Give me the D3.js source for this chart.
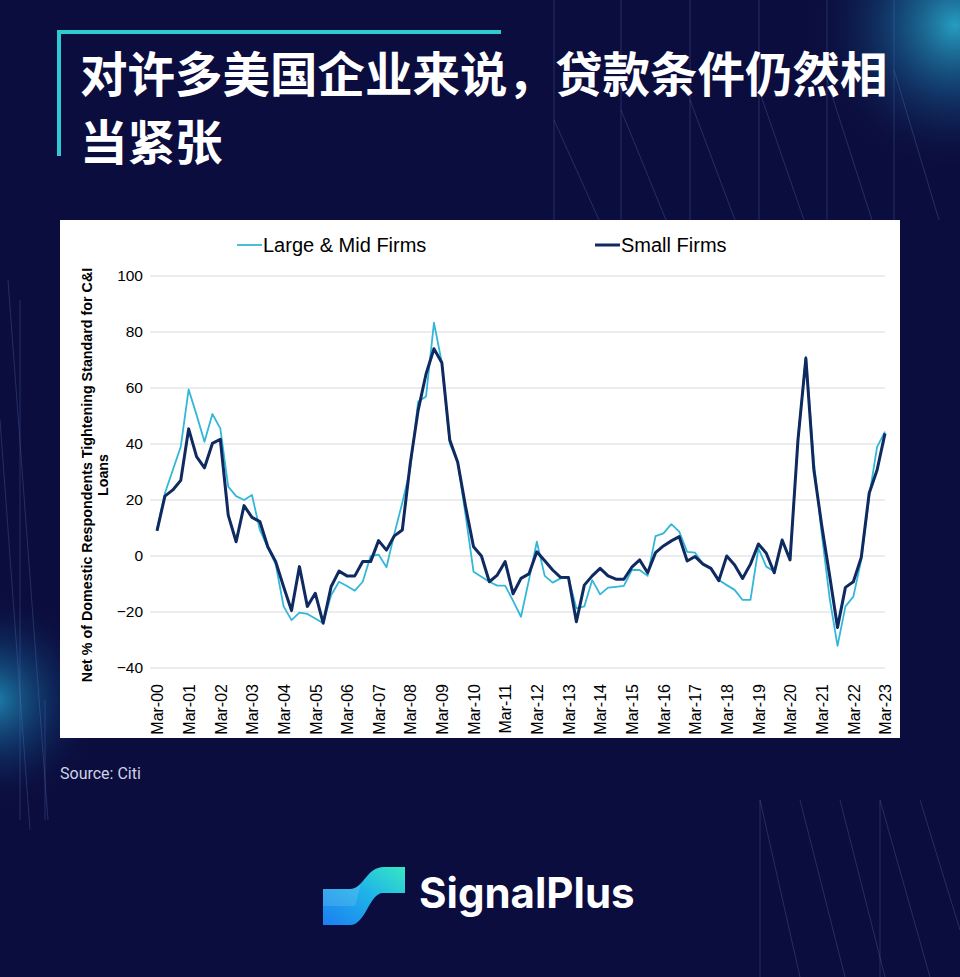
<!DOCTYPE html>
<html>
<head>
<meta charset="utf-8">
<script src="https://cdn.jsdelivr.net/npm/d3@7/dist/d3.min.js"></script>
<style>
  html, body { margin: 0; padding: 0; background: #0b0d3e; }
  svg { display: block; }
</style>
</head>
<body>
<svg id="chart" width="960" height="977"></svg>
<script>
// Quarterly survey dates, Mar-00 through Mar-23
const quarters = [
  "Mar-00","Jun-00","Sep-00","Dec-00","Mar-01","Jun-01","Sep-01","Dec-01",
  "Mar-02","Jun-02","Sep-02","Dec-02","Mar-03","Jun-03","Sep-03","Dec-03",
  "Mar-04","Jun-04","Sep-04","Dec-04","Mar-05","Jun-05","Sep-05","Dec-05",
  "Mar-06","Jun-06","Sep-06","Dec-06","Mar-07","Jun-07","Sep-07","Dec-07",
  "Mar-08","Jun-08","Sep-08","Dec-08","Mar-09","Jun-09","Sep-09","Dec-09",
  "Mar-10","Jun-10","Sep-10","Dec-10","Mar-11","Jun-11","Sep-11","Dec-11",
  "Mar-12","Jun-12","Sep-12","Dec-12","Mar-13","Jun-13","Sep-13","Dec-13",
  "Mar-14","Jun-14","Sep-14","Dec-14","Mar-15","Jun-15","Sep-15","Dec-15",
  "Mar-16","Jun-16","Sep-16","Dec-16","Mar-17","Jun-17","Sep-17","Dec-17",
  "Mar-18","Jun-18","Sep-18","Dec-18","Mar-19","Jun-19","Sep-19","Dec-19",
  "Mar-20","Jun-20","Sep-20","Dec-20","Mar-21","Jun-21","Sep-21","Dec-21",
  "Mar-22","Jun-22","Sep-22","Dec-22","Mar-23"
];

// Net % of domestic respondents tightening standards for C&I loans
const largeMidFirms = [
  9.5, 22.4, 30.7, 39, 59.5, 50.4, 40.8, 50.7,
  45.6, 24.8, 21.4, 20, 21.8, 9.3, 3, -3,
  -18, -22.9, -20.2, -20.7, -22.3, -24, -14, -9.2,
  -10.7, -12.4, -9.2, 0, 0.5, -4, 8, 19,
  31, 55.1, 57, 83.3, 69, 40.2, 33.5, 14.5,
  -5.6, -7.4, -9.2, -10.6, -10.6, -16, -21.7, -8.6,
  5.1, -7.1, -9.5, -8, -7.7, -18.7, -18, -8.6,
  -13.7, -11.3, -11, -10.7, -5, -5, -7.1, 7.1,
  8.1, 11.4, 8.7, 1.5, 1.2, -2.9, -4.6, -8.6,
  -10.4, -12.1, -15.7, -15.7, 2.7, -3.8, -5.5, 5.7,
  -1.4, 41.6, 71.2, 34, 8, -15, -32.1, -18,
  -14.5, -1.4, 21.2, 39, 44.4
];

const smallFirms = [
  9, 21.4, 23.6, 27, 45.4, 35.5, 31.5, 40.2,
  41.7, 14.6, 5.1, 18, 13.8, 12.3, 3.3, -2,
  -11, -19.5, -3.8, -18, -13.3, -24, -11, -5.4,
  -7.1, -7.1, -2, -2, 5.5, 2.1, 7.2, 9.3,
  33, 52, 65, 74, 69, 41.4, 33.5, 17.6,
  3.3, 0, -9.2, -6.8, -2, -13.5, -8, -6.4,
  1.5, -1.7, -5, -7.6, -7.7, -23.5, -10.4, -7.1,
  -4.4, -7.1, -8.3, -8.3, -4, -1.4, -6, 1.2,
  3.6, 5.4, 6.9, -1.8, -0.2, -2.9, -4.4, -8.8,
  0, -3.2, -8, -2.9, 4.3, 1, -6, 5.7,
  -1.4, 41.4, 70.6, 31, 11, -7, -25.5, -11.2,
  -9.2, -0.5, 22.4, 30.7, 43.8
];

const xTickLabels = [
  "Mar-00","Mar-01","Mar-02","Mar-03","Mar-04","Mar-05","Mar-06","Mar-07",
  "Mar-08","Mar-09","Mar-10","Mar-11","Mar-12","Mar-13","Mar-14","Mar-15",
  "Mar-16","Mar-17","Mar-18","Mar-19","Mar-20","Mar-21","Mar-22","Mar-23"
];
const yTickValues = [100, 80, 60, 40, 20, 0, -20, -40];

const seriesNames = ["Large & Mid Firms", "Small Firms"];
const titleLines = ["对许多美国企业来说，贷款条件仍然相", "当紧张"];
const yAxisTitle = ["Net % of Domestic Respondents Tightening Standard for C&I", "Loans"];
const sourceText = "Source: Citi";
const brandName = "SignalPlus";

const svg = d3.select("#chart");
const W = 960, H = 977;
const defs = svg.append("defs");

// ---------- page background ----------
svg.append("rect").attr("width", W).attr("height", H).attr("fill", "#0b0d3e");

const glowTR = defs.append("radialGradient").attr("id", "glowTR")
  .attr("cx", 0.5).attr("cy", 0.5).attr("r", 0.5);
glowTR.append("stop").attr("offset", "0%").attr("stop-color", "#2bb7d6").attr("stop-opacity", 0.85);
glowTR.append("stop").attr("offset", "45%").attr("stop-color", "#1a6fa0").attr("stop-opacity", 0.45);
glowTR.append("stop").attr("offset", "100%").attr("stop-color", "#0b0d3e").attr("stop-opacity", 0);
svg.append("circle").attr("cx", 955).attr("cy", 25).attr("r", 150).attr("fill", "url(#glowTR)");

const glowL = defs.append("radialGradient").attr("id", "glowL")
  .attr("cx", 0.5).attr("cy", 0.5).attr("r", 0.5);
glowL.append("stop").attr("offset", "0%").attr("stop-color", "#23a6cf").attr("stop-opacity", 0.75);
glowL.append("stop").attr("offset", "50%").attr("stop-color", "#155f95").attr("stop-opacity", 0.35);
glowL.append("stop").attr("offset", "100%").attr("stop-color", "#0b0d3e").attr("stop-opacity", 0);
svg.append("circle").attr("cx", -5).attr("cy", 700).attr("r", 110).attr("fill", "url(#glowL)");

// faint decorative stripes
const deco = svg.append("g").attr("stroke", "#5f79b8").attr("stroke-opacity", 0.3).attr("stroke-width", 1);
[554, 621, 690, 759, 827, 894].forEach((x, k) => {
  deco.append("line").attr("x1", x).attr("y1", 0).attr("x2", x).attr("y2", 220);
  deco.append("line").attr("x1", x).attr("y1", 120 - k * 10).attr("x2", x + 45).attr("y2", 220);
});
[[8, 280, 48, 820], [0, 420, 30, 830], [45, 700, 45, 820], [20, 300, 20, 820]].forEach(s =>
  deco.append("line").attr("x1", s[0]).attr("y1", s[1]).attr("x2", s[2]).attr("y2", s[3]));
[[760, 800, 800, 977], [800, 800, 845, 977], [840, 800, 885, 977], [880, 800, 930, 977],
 [920, 800, 960, 930], [760, 800, 760, 977], [880, 800, 880, 977]].forEach(s =>
  deco.append("line").attr("x1", s[0]).attr("y1", s[1]).attr("x2", s[2]).attr("y2", s[3]));

// ---------- title ----------
svg.append("rect").attr("x", 57).attr("y", 30).attr("width", 444).attr("height", 4).attr("fill", "#2fc9d4");
svg.append("rect").attr("x", 57).attr("y", 30).attr("width", 4).attr("height", 126).attr("fill", "#2fc9d4");
svg.append("g").selectAll("text").data(titleLines).join("text")
  .attr("x", 80).attr("y", (d, i) => 92 + i * 68)
  .attr("fill", "#ffffff")
  .attr("font-family", "'Noto Sans CJK SC', sans-serif")
  .attr("font-weight", 700)
  .attr("font-size", 47.5)
  .text(d => d);

// ---------- chart panel ----------
svg.append("rect").attr("x", 60).attr("y", 220).attr("width", 840).attr("height", 518).attr("fill", "#ffffff");

const x = d3.scalePoint().domain(quarters).range([157, 885]);
const y = d3.scaleLinear().domain([-40, 100]).range([668, 276]);

// horizontal gridlines
svg.append("g").selectAll("line").data(yTickValues).join("line")
  .attr("x1", 150).attr("x2", 885)
  .attr("y1", d => y(d)).attr("y2", d => y(d))
  .attr("stroke", "#d9d9d9").attr("stroke-width", 1);

// y axis labels
const yAxis = d3.axisLeft(y).tickValues(yTickValues).tickSize(0).tickPadding(0);
const gy = svg.append("g").attr("transform", "translate(143,0)").call(yAxis);
gy.select(".domain").remove();
gy.selectAll("text")
  .attr("font-family", "'Liberation Sans', Arial, sans-serif")
  .attr("font-size", 15.5).attr("fill", "#000000");

// x axis labels (rotated)
const xAxis = d3.axisBottom(x).tickValues(xTickLabels).tickSize(0).tickPadding(0);
const gx = svg.append("g").attr("transform", "translate(0,684)").call(xAxis);
gx.select(".domain").remove();
gx.selectAll("text")
  .attr("font-family", "'Liberation Sans', Arial, sans-serif")
  .attr("font-size", 16).attr("fill", "#000000")
  .attr("text-anchor", "end")
  .attr("transform", "rotate(-90)")
  .attr("x", 0).attr("y", 0).attr("dy", "0.36em");

// y axis title
svg.append("g").attr("transform", "translate(92,475) rotate(-90)")
  .selectAll("text").data(yAxisTitle).join("text")
  .attr("x", 0).attr("y", (d, i) => i * 16)
  .attr("text-anchor", "middle")
  .attr("font-family", "'Liberation Sans', Arial, sans-serif")
  .attr("font-weight", 700).attr("font-size", 14.3).attr("fill", "#000000")
  .text(d => d);

// series lines
const line = d3.line().x((d, i) => x(quarters[i])).y(d => y(d));
const series = [
  { name: seriesNames[0], values: largeMidFirms, color: "#33b7d9", width: 1.8 },
  { name: seriesNames[1], values: smallFirms, color: "#0e2a60", width: 3 }
];
svg.append("g").selectAll("path").data(series).join("path")
  .attr("d", d => line(d.values))
  .attr("fill", "none")
  .attr("stroke", d => d.color)
  .attr("stroke-width", d => d.width)
  .attr("stroke-linejoin", "round");

// legend
const legendX = [237, 595];
const lg = svg.append("g").selectAll("g").data(series).join("g")
  .attr("transform", (d, i) => `translate(${legendX[i]},245)`);
lg.append("line").attr("x1", 0).attr("x2", 25).attr("y1", 0).attr("y2", 0)
  .attr("stroke", d => d.color).attr("stroke-width", d => d.width);
lg.append("text").attr("x", 26).attr("y", 7)
  .attr("font-family", "'Liberation Sans', Arial, sans-serif")
  .attr("font-size", 20).attr("fill", "#000000")
  .text(d => d.name);

// ---------- source ----------
svg.append("text").attr("x", 60).attr("y", 779)
  .attr("font-family", "Roboto, sans-serif").attr("font-size", 16)
  .attr("fill", "#cfd3e6").text(sourceText);

// ---------- brand mark ----------
const lgGrad = defs.append("linearGradient").attr("id", "brandGrad")
  .attr("x1", 0).attr("y1", 1).attr("x2", 1).attr("y2", 0);
lgGrad.append("stop").attr("offset", "0%").attr("stop-color", "#1b7ff2");
lgGrad.append("stop").attr("offset", "55%").attr("stop-color", "#1fb4e8");
lgGrad.append("stop").attr("offset", "100%").attr("stop-color", "#36e8c2");
svg.append("path")
  .attr("d", "M323,889 L350,889 C364,889 366,867 384,867 L405,867 L405,893 L383,893 C369,893 366,925 350,925 L323,925 Z")
  .attr("fill", "url(#brandGrad)");
svg.append("path")
  .attr("d", "M323,889 L350,889 C356,889 360,885 362,880 L355,906 L323,906 Z")
  .attr("fill", "#ffffff").attr("fill-opacity", 0.12);
svg.append("text").attr("x", 419).attr("y", 908)
  .attr("font-family", "Inter, 'Open Sans', sans-serif").attr("font-weight", 700)
  .attr("font-size", 42).attr("fill", "#ffffff")
  .text(brandName);
</script>
</body>
</html>
